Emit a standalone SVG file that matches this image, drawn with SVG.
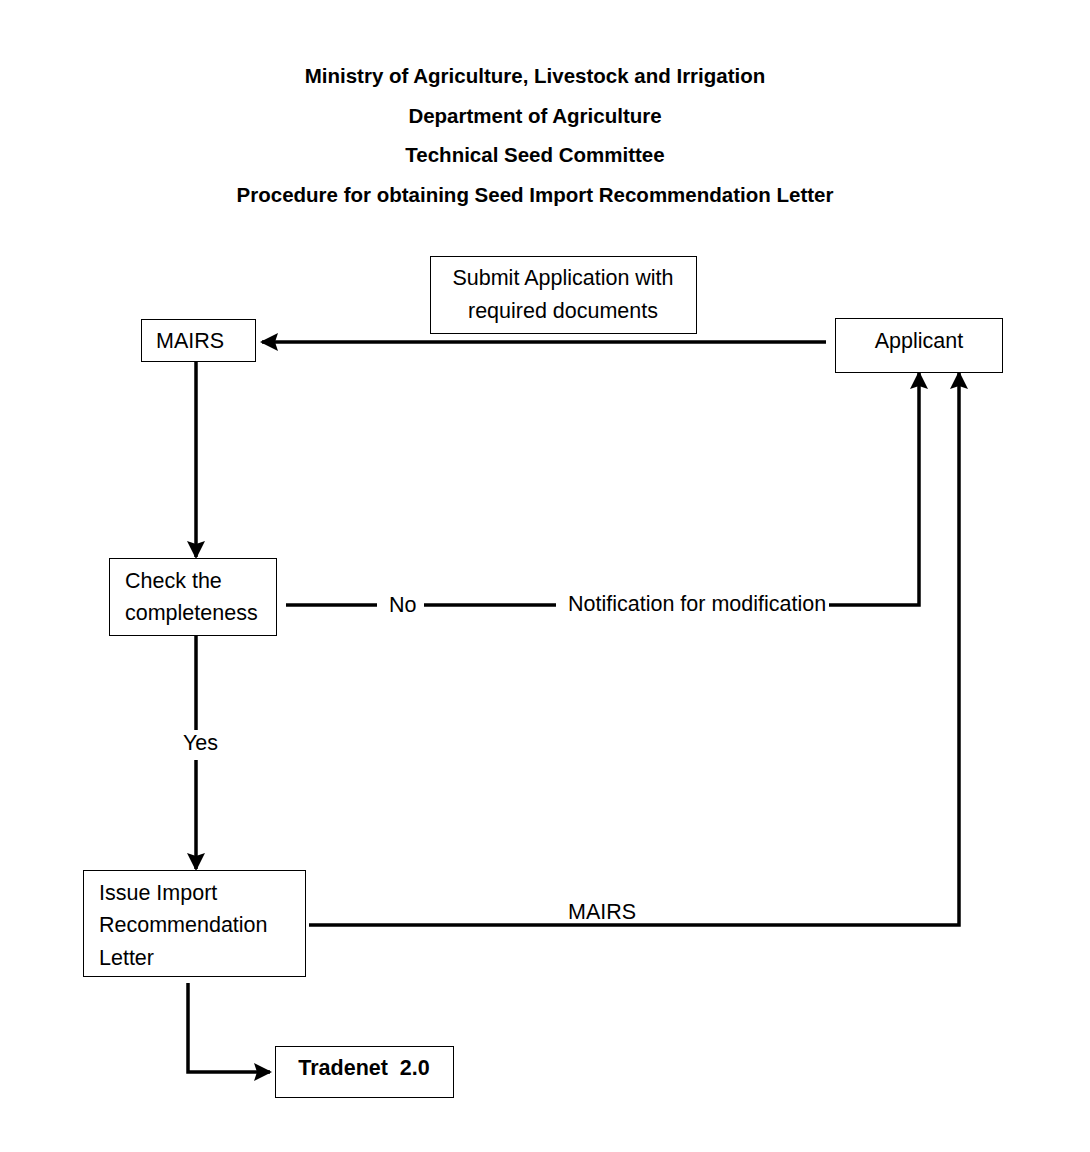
<svg xmlns="http://www.w3.org/2000/svg" width="1090" height="1152" viewBox="0 0 1090 1152">
<defs>
<style>
.t{font-family:"Liberation Sans",Arial,sans-serif;font-size:21.5px;fill:#000}
.h{font-family:"Liberation Sans",Arial,sans-serif;font-size:20.5px;font-weight:bold;fill:#000;text-anchor:middle}
.b{fill:#fff;stroke:#000;stroke-width:1}
.c{fill:none;stroke:#000;stroke-width:3.5}
</style>
<marker id="a" viewBox="0 0 18 18" refX="16" refY="9" markerWidth="18" markerHeight="18" markerUnits="userSpaceOnUse" orient="auto">
<path d="M0,0 L18,9 L0,18 L3,9 z" fill="#000"/>
</marker>
</defs>
<rect width="1090" height="1152" fill="#fff"/>
<g id="title">
<text class="h" x="535" y="83">Ministry of Agriculture, Livestock and Irrigation</text>
<text class="h" x="535" y="123">Department of Agriculture</text>
<text class="h" x="535" y="162">Technical Seed Committee</text>
<text class="h" x="535" y="202">Procedure for obtaining Seed Import Recommendation Letter</text>
</g>
<g id="connectors">
<path class="c" d="M826,342 L262,342" marker-end="url(#a)"/>
<path class="c" d="M196,361 L196,557" marker-end="url(#a)"/>
<path class="c" d="M286,605 L377,605"/>
<path class="c" d="M424,605 L556,605"/>
<path class="c" d="M829,605 L919,605 L919,373" marker-end="url(#a)"/>
<path class="c" d="M196,636 L196,730"/>
<path class="c" d="M196,760 L196,869" marker-end="url(#a)"/>
<path class="c" d="M309,925 L959,925 L959,373" marker-end="url(#a)"/>
<path class="c" d="M188,983 L188,1072 L270,1072" marker-end="url(#a)"/>
</g>
<g id="labels">
<text class="t" x="389" y="612">No</text>
<text class="t" x="568" y="611">Notification for modification</text>
<text class="t" x="183" y="750">Yes</text>
<text class="t" x="568" y="919">MAIRS</text>
</g>
<g id="submit">
<rect class="b" x="430.5" y="256.5" width="266" height="77"/>
<text class="t" x="563" y="285" text-anchor="middle">Submit Application with</text>
<text class="t" x="563" y="318" text-anchor="middle">required documents</text>
</g>
<g id="mairs">
<rect class="b" x="141.5" y="319.5" width="114" height="42"/>
<text class="t" x="156" y="348">MAIRS</text>
</g>
<g id="applicant">
<rect class="b" x="835.5" y="318.5" width="167" height="54"/>
<text class="t" x="919" y="348" text-anchor="middle">Applicant</text>
</g>
<g id="check">
<rect class="b" x="109.5" y="558.5" width="167" height="77"/>
<text class="t" x="125" y="588">Check the</text>
<text class="t" x="125" y="620">completeness</text>
</g>
<g id="issue">
<rect class="b" x="83.5" y="870.5" width="222" height="106"/>
<text class="t" x="99" y="900">Issue Import</text>
<text class="t" x="99" y="932">Recommendation</text>
<text class="t" x="99" y="965">Letter</text>
</g>
<g id="tradenet">
<rect class="b" x="275.5" y="1046.5" width="178" height="51"/>
<text class="t" x="364" y="1075" text-anchor="middle" font-weight="bold" xml:space="preserve">Tradenet  2.0</text>
</g>
</svg>
